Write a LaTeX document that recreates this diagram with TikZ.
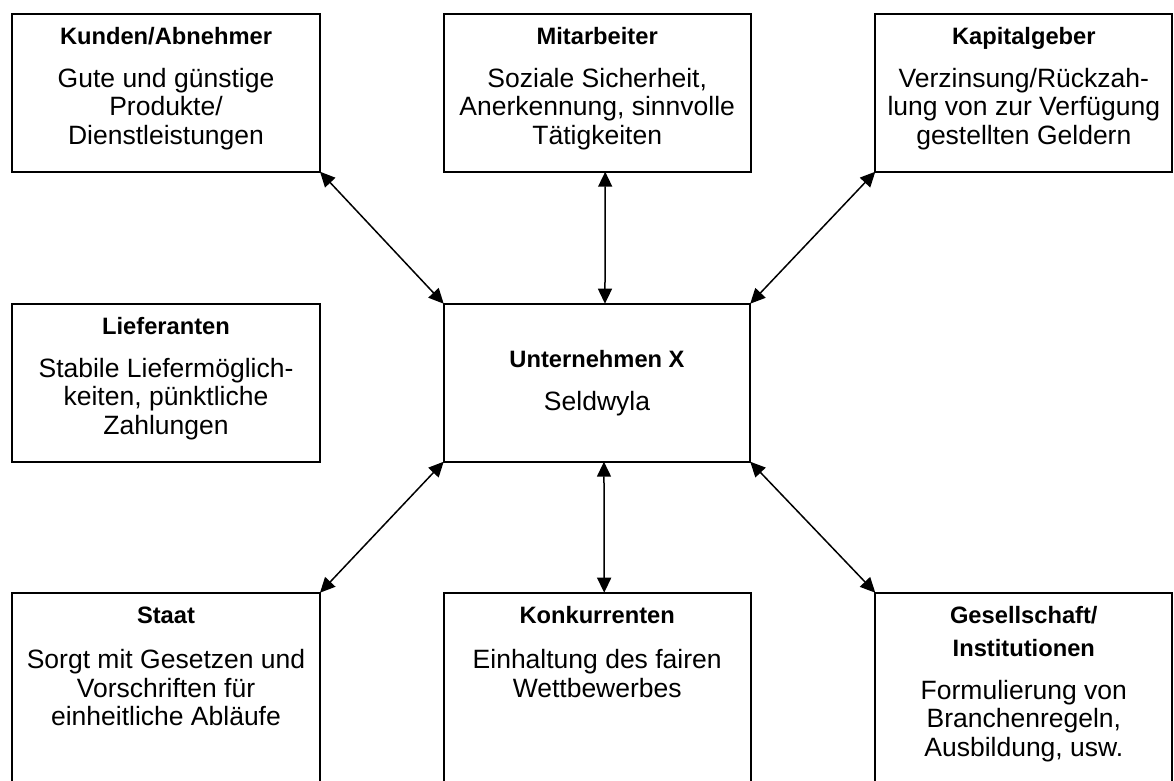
\documentclass[tikz,border=0pt]{standalone}
\usepackage{fontspec}
\setmainfont{Liberation Sans}
\usetikzlibrary{arrows.meta}
\begin{document}
\begin{tikzpicture}[x=1pt,y=-1pt,
  box/.style={draw, line width=2pt, anchor=north west, inner sep=0pt, outer sep=0pt},
  ttl/.style={anchor=base, inner sep=0pt, align=center, font=\fontsize{23.7}{33}\selectfont\bfseries},
  bdy/.style={anchor=base, inner sep=0pt, align=center, font=\fontsize{26.5}{28.5}\selectfont},
  conn/.style={line width=1.5pt, {Triangle[length=15pt,width=14pt]}-{Triangle[length=15pt,width=14pt]}}]
\path[use as bounding box, clip] (0,0) rectangle (1174,780);
\fill[white] (0,0) rectangle (1174,780);
% boxes
\node[box, minimum width=308pt, minimum height=158pt] (kunden) at (12,13.7) {};
\node[box, minimum width=307pt, minimum height=158pt] (mit) at (443.7,13.7) {};
\node[box, minimum width=297pt, minimum height=158pt] (kap) at (875.3,13.7) {};
\node[box, minimum width=308pt, minimum height=158pt] (lief) at (12,303.7) {};
\node[box, minimum width=306.5pt, minimum height=158pt] (unt) at (443.7,303.7) {};
\node[box, minimum width=308pt, minimum height=200pt] (staat) at (12,592.7) {};
\node[box, minimum width=307pt, minimum height=200pt] (konk) at (443.7,592.7) {};
\node[box, minimum width=297pt, minimum height=200pt] (ges) at (875.3,592.7) {};
% texts (anchor base = baseline of the last line)
\node[ttl] (kt) at (166,44.5) {Kunden/Abnehmer};
\node[bdy] (kb) at (166,144.3) {Gute und günstige\\Produkte/\\Dienstleistungen};
\node[ttl] (mt) at (597.2,44.5) {Mitarbeiter};
\node[bdy] (mb) at (597.2,144.3) {Soziale Sicherheit,\\Anerkennung, sinnvolle\\Tätigkeiten};
\node[ttl] (kpt) at (1023.8,44.5) {Kapitalgeber};
\node[bdy] (kpb) at (1023.8,144.3) {Verzinsung/Rückzah-\\lung von zur Verfügung\\gestellten Geldern};
\node[ttl] (lt) at (166,334.3) {Lieferanten};
\node[bdy] (lb) at (166,434.3) {Stabile Liefermöglich-\\keiten, pünktliche\\Zahlungen};
\node[ttl] (ut) at (597,367.3) {Unternehmen X};
\node[bdy] (ub) at (597,410) {Seldwyla};
\node[ttl] (st) at (166,623) {Staat};
\node[bdy] (sb) at (166,725.5) {Sorgt mit Gesetzen und\\Vorschriften für\\einheitliche Abläufe};
\node[ttl] (kot) at (597.2,623) {Konkurrenten};
\node[bdy] (kob) at (597.2,697) {Einhaltung des fairen\\Wettbewerbes};
\node[ttl] (gt) at (1023.8,656) {Gesellschaft/\\Institutionen};
\node[bdy] (gb) at (1023.8,756) {Formulierung von\\Branchenregeln,\\Ausbildung, usw.};
% connectors
\draw[conn] (kunden.south east) -- (unt.north west);
\draw[conn] ([xshift=8pt]mit.south) -- ([xshift=8pt]unt.north);
\draw[conn] (kap.south west) -- (unt.north east);
\draw[conn] (unt.south west) -- (staat.north east);
\draw[conn] ([xshift=7pt]unt.south) -- ([xshift=7pt]konk.north);
\draw[conn] (unt.south east) -- (ges.north west);
\end{tikzpicture}
\end{document}
